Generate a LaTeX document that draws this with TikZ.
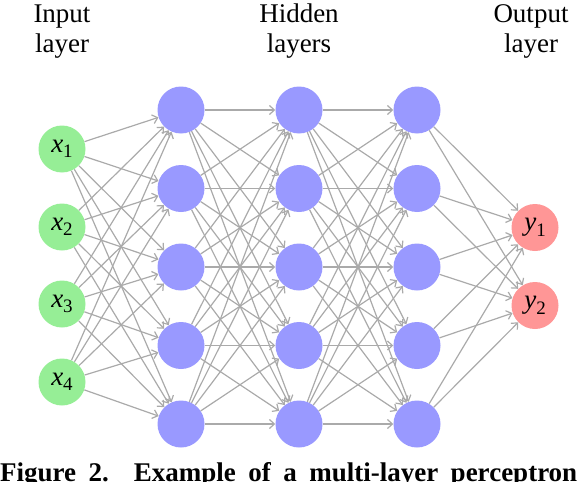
\documentclass[tikz,border=0pt]{standalone}
\usepackage{fontspec}
\setmainfont{Liberation Serif}
\usetikzlibrary{arrows.meta}
\definecolor{ingreen}{RGB}{150,238,150}
\definecolor{hidblue}{RGB}{153,153,255}
\definecolor{outred}{RGB}{255,150,150}
\definecolor{edgegray}{RGB}{170,170,170}
\begin{document}
\begin{tikzpicture}[x=1pt,y=-1pt,
  neuron/.style={circle,minimum size=47pt,inner sep=0pt,draw=none,font=\fontsize{27}{27}\selectfont},
  inneuron/.style={neuron,fill=ingreen},
  hidneuron/.style={neuron,fill=hidblue},
  outneuron/.style={neuron,fill=outred},
  conn/.style={draw=edgegray,line width=1.2pt,-{Straight Barb[length=5pt,width=9pt]}},
  title/.style={align=center,font=\fontsize{27}{30}\selectfont,anchor=base,inner sep=0pt}]
\useasboundingbox (0,0) rectangle (582,482);
% titles
\node[title] (tin) at (62,52) {Input\\layer};
\node[title] (thid) at (299,52) {Hidden\\layers};
\node[title] (tout) at (531,52) {Output\\layer};
% input layer
\foreach \i/\y in {1/149,2/227,3/304,4/382}
  \node[inneuron] (I\i) at (62,\y) {\textit{x}\raisebox{-0.2em}{\fontsize{19}{19}\selectfont\i}};
% hidden layers
\foreach \l/\x in {1/181,2/299,3/417}
  \foreach \j/\y in {1/110,2/188.5,3/267,4/345.5,5/424}
    \node[hidneuron] (H\l\j) at (\x,\y) {};
% output layer
\foreach \k/\y in {1/227.5,2/305.5}
  \node[outneuron] (O\k) at (535,\y) {\textit{y}\raisebox{-0.2em}{\fontsize{19}{19}\selectfont\k}};
% connections
\foreach \i in {1,...,4}
  \foreach \j in {1,...,5}
    \draw[conn] (I\i) -- (H1\j);
\foreach \i in {1,...,5}
  \foreach \j in {1,...,5}
    {\draw[conn] (H1\i) -- (H2\j);
     \draw[conn] (H2\i) -- (H3\j);}
\foreach \i in {1,...,5}
  \foreach \k in {1,2}
    \draw[conn] (H3\i) -- (O\k);
% caption
\node[anchor=base west,inner sep=0pt] (cap) at (0,481) {\fontsize{27}{27}\selectfont\bfseries\makebox[577pt][s]{Figure 2.\ \ Example of a multi-layer perceptron}};
\end{tikzpicture}
\end{document}
